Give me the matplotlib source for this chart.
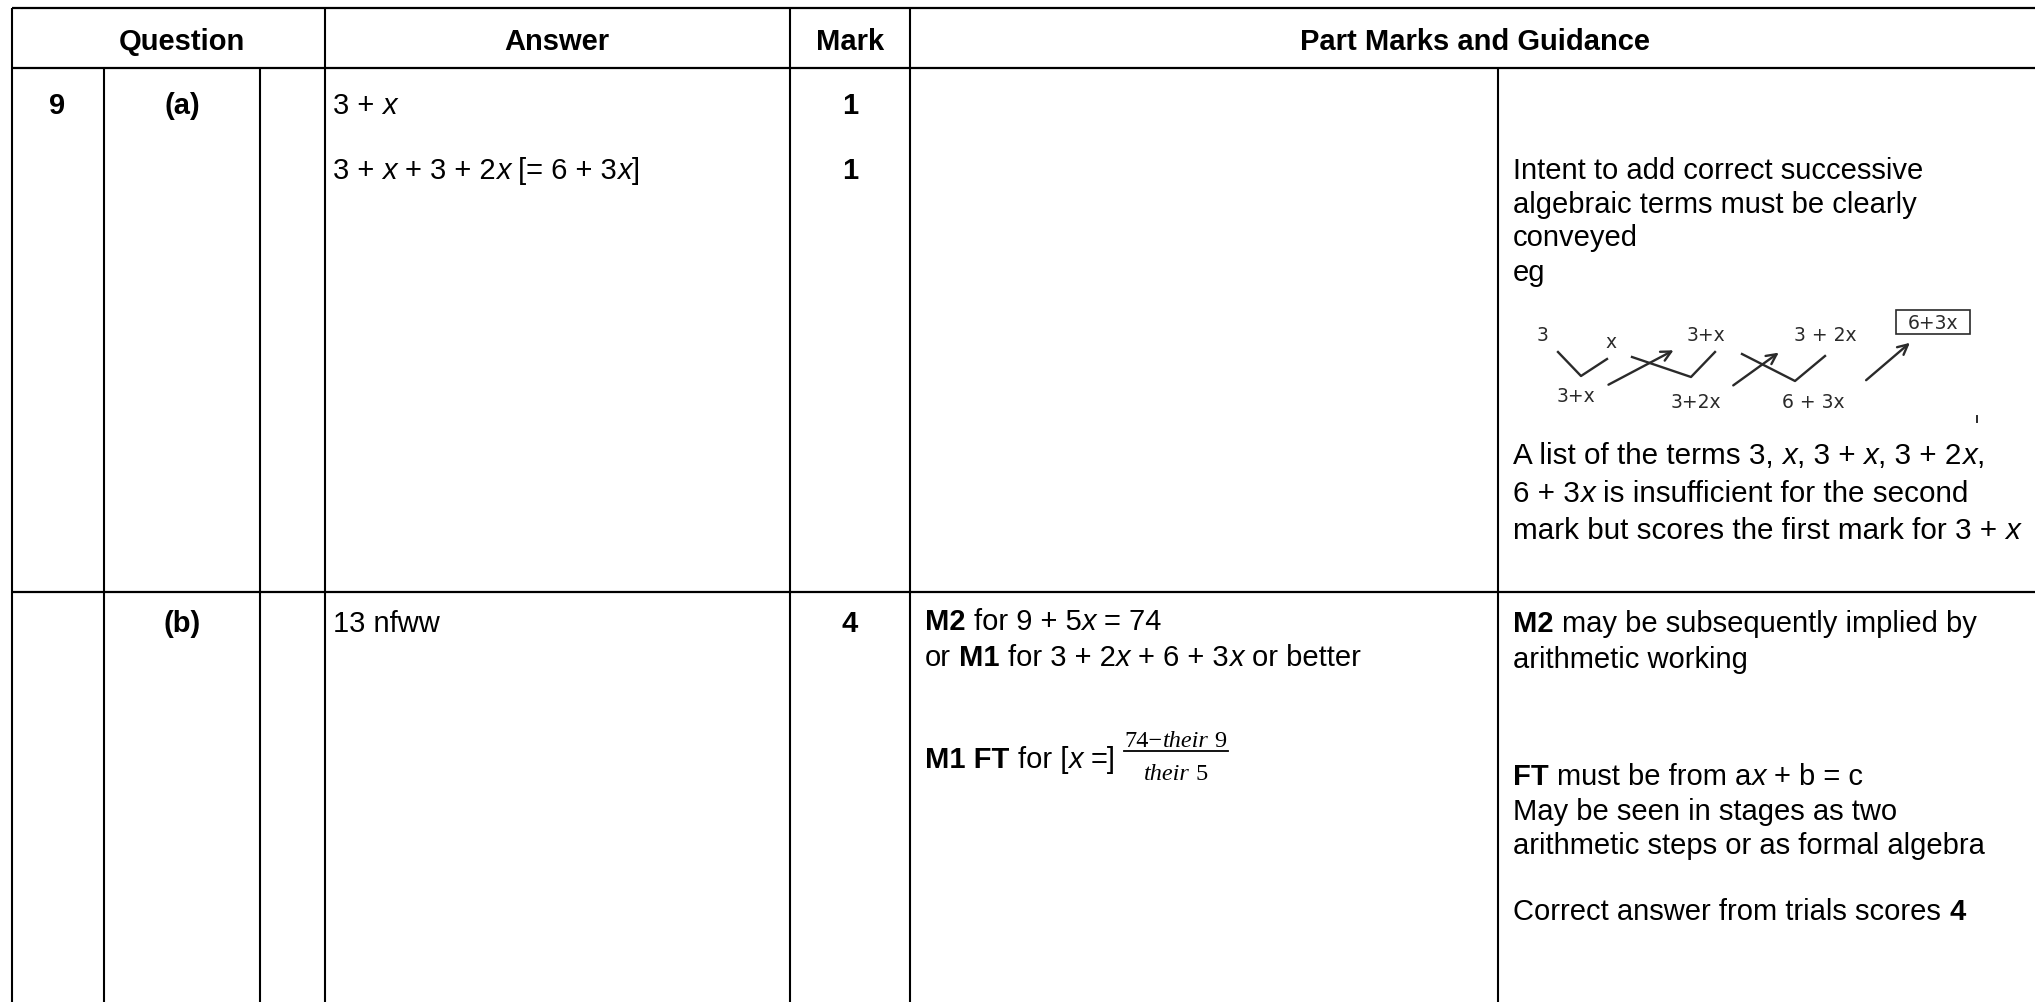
import re
import matplotlib
matplotlib.use('Agg')
import matplotlib.pyplot as plt

# table text (markup: *bold*, _italic_)
header_labels = ['Question', 'Answer', 'Mark', 'Part Marks and Guidance']
question_no = '9'
part_labels = ['(a)', '(b)']
answers_a = ['3 + _x_', '3 + _x_ + 3 + 2_x_ [= 6 + 3_x_]']
marks_a = ['1', '1']
answer_b = '13 nfww'
mark_b = '4'
guidance_a_top = ['Intent to add correct successive', 'algebraic terms must be clearly',
                  'conveyed', 'eg']
guidance_a_bottom = ['A list of the terms 3, _x_, 3 + _x_, 3 + 2_x_,',
                     '6 + 3_x_ is insufficient for the second',
                     'mark but scores the first mark for 3 + _x_']
part_marks_b = ['*M2* for 9 + 5_x_ = 74', 'or *M1* for 3 + 2_x_ + 6 + 3_x_ or better']
ft_prefix = '*M1 FT* for [_x_ =]'
frac_num = '74\u2212_their_ 9'
frac_den = '_their_ 5'
guidance_b = ['*M2* may be subsequently implied by', 'arithmetic working',
              '*FT* must be from a_x_ + b = c', 'May be seen in stages as two',
              'arithmetic steps or as formal algebra', 'Correct answer from trials scores *4*']

# handwritten example in the guidance cell
sketch_top = [('3', 1542, 335), ('x', 1611, 342), ('3+x', 1706, 335), ('3 + 2x', 1825, 335)]
sketch_bottom = [('3+x', 1576, 397), ('3+2x', 1696, 402), ('6 + 3x', 1813, 403)]
sketch_boxed = ('6+3x', 1933, 323)
sketch_vees = [[(1558, 353), (1581, 377), (1607, 360)],
               [(1632, 358), (1691, 378), (1715, 353)],
               [(1742, 355), (1795, 382), (1825, 357)]]
sketch_arrows = [((1606, 387), (1676, 350)), ((1731, 388), (1781, 352)),
                 ((1864, 383), (1912, 342))]

# grid layout (pixels)
W, H = 2035, 1003
y_top, y_head, y_row = 9, 69, 593
x_left = 12
full_cols = [12, 325, 790, 910]
body_cols = [104, 260, 1498]

fig = plt.figure(figsize=(W / 100, H / 100), dpi=100)
ax = fig.add_axes([0, 0, 1, 1])
ax.set_xlim(0, W)
ax.set_ylim(H, 0)
ax.axis('off')
r = fig.canvas.get_renderer()

FS = 21
SANS = 'Liberation Sans'


def props(kind, family, size):
    return dict(fontsize=size, family=family,
                fontweight='bold' if kind == 'b' else 'normal',
                fontstyle='italic' if kind == 'i' else 'normal')


def width(s, p):
    t = ax.text(0, 0, s, **p)
    w = t.get_window_extent(r).width
    t.remove()
    return w


def adv(s, p):
    return width('|' + s + '|', p) - width('||', p)


def parse(s):
    out = []
    for tok in re.findall(r'\*[^*]+\*|_[^_]+_|[^*_]+', s):
        if tok.startswith('*'):
            out.append((tok[1:-1], 'b'))
        elif tok.startswith('_'):
            out.append((tok[1:-1], 'i'))
        else:
            out.append((tok, 'n'))
    return out


def run_width(s, family=SANS, size=FS):
    return sum(adv(seg, props(k, family, size)) for seg, k in parse(s))


def rich(x, y, s, family=SANS, size=FS, ha='left'):
    # y is the middle of the capitals
    base = y + 0.36 * size * 100 / 72
    if ha == 'center':
        x = x - run_width(s, family, size) / 2
    for seg, k in parse(s):
        p = props(k, family, size)
        lead = len(seg) - len(seg.lstrip())
        if lead:
            x += adv(' ' * lead, p)
        body = seg.lstrip()
        if body.strip():
            ax.text(x, base, body.rstrip(), va='baseline', ha='left', color='black', **p)
        x += adv(body, p)
    return x


# grid lines
for y in [y_top, y_head, y_row]:
    ax.plot([x_left, W], [y, y], color='black', lw=1.6, solid_capstyle='butt')
for x in full_cols:
    ax.plot([x, x], [y_top, H], color='black', lw=1.5, solid_capstyle='butt')
for x in body_cols:
    ax.plot([x, x], [y_head, H], color='black', lw=1.5, solid_capstyle='butt')

# header
for lab, cx in zip(header_labels, [182, 557, 850, 1475]):
    rich(cx, 39, '*' + lab + '*', ha='center')

# row (a)
rich(57, 103, '*' + question_no + '*', ha='center')
rich(182, 103, '*' + part_labels[0] + '*', ha='center')
for txt, mk, y in zip(answers_a, marks_a, [103, 168]):
    rich(333, y, txt)
    rich(850, y, '*' + mk + '*', ha='center')
for txt, y in zip(guidance_a_top, [168, 202, 235, 270]):
    rich(1513, y, txt)
for txt, y in zip(guidance_a_bottom, [453, 491, 528]):
    rich(1513, y, txt, size=21.3)

# handwritten sketch
ink = '#2a2a2a'
hand = dict(family='DejaVu Sans', fontsize=13.5, color=ink, ha='center', va='center')
for lab, x, y in sketch_top + sketch_bottom + [sketch_boxed]:
    ax.text(x, y, lab, **hand)
bx, by = sketch_boxed[1], sketch_boxed[2]
ax.add_patch(plt.Rectangle((bx - 37, by - 12), 74, 24, fill=False, ec=ink, lw=1.2))
for pts in sketch_vees:
    ax.plot([p[0] for p in pts], [p[1] for p in pts], color=ink, lw=1.7)
for a, b in sketch_arrows:
    ax.annotate('', xy=b, xytext=a,
                arrowprops=dict(arrowstyle='->', color=ink, lw=1.7, mutation_scale=18))
ax.plot([1977, 1977], [417, 423], color=ink, lw=1.4)

# row (b)
rich(182, 622, '*' + part_labels[1] + '*', ha='center')
rich(333, 622, answer_b)
rich(850, 622, '*' + mark_b + '*', ha='center')
for txt, y in zip(part_marks_b, [620, 656]):
    rich(925, y, txt)
xe = rich(925, 757, ft_prefix)
SERIF = 'Liberation Serif'
fs_frac = 17.5
wn = run_width(frac_num, SERIF, fs_frac)
fx0 = xe + 9
fcx = fx0 + wn / 2
rich(fcx, 738, frac_num, family=SERIF, size=fs_frac, ha='center')
rich(fcx, 771, frac_den, family=SERIF, size=fs_frac, ha='center')
ax.plot([fx0 - 1, fx0 + wn + 1], [752, 752], color='black', lw=1.3)

for txt, y in zip(guidance_b, [622, 658, 775, 810, 844, 910]):
    rich(1513, y, txt)

fig.savefig('out.png', dpi=100)
